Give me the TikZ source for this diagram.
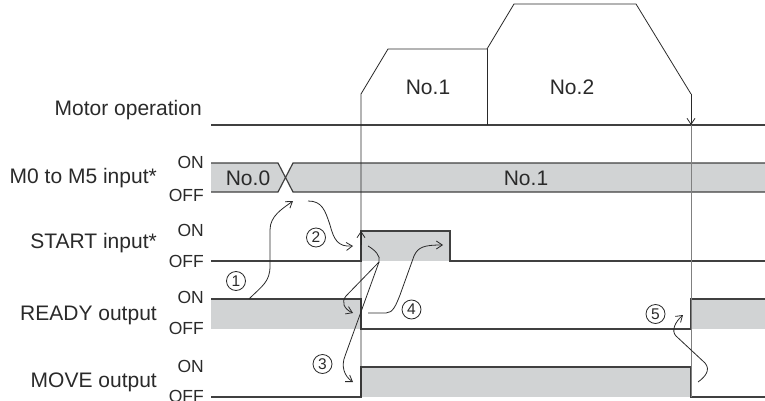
\documentclass[tikz,border=0pt]{standalone}
\usepackage{fontspec}
\setmainfont{Liberation Sans}
\usetikzlibrary{arrows.meta}
\definecolor{fillg}{HTML}{D1D3D4}
\definecolor{lineg}{HTML}{404040}
\definecolor{ptr}{HTML}{2A2A2A}
\begin{document}
\begin{tikzpicture}[x=1pt,y=-1pt,
  sig/.style={draw=lineg, line width=1.2pt},
  prof/.style={draw=ptr, line width=0.8pt},
  lbl/.style={font=\fontsize{21}{23}\selectfont, anchor=east, inner sep=0, text=ptr},
  txt/.style={font=\fontsize{21}{23}\selectfont, inner sep=0, text=ptr},
  onoff/.style={font=\fontsize{17.5}{19}\selectfont, anchor=east, inner sep=0, text=ptr},
  num/.style={circle, draw=ptr, line width=0.8pt, minimum size=19pt, inner sep=0, font=\fontsize{15.5}{16}\selectfont, text=ptr},
  pointer/.style={draw=ptr, line width=0.8pt, -{Straight Barb[length=6pt,width=8pt]}},
  ]
\useasboundingbox (0,0) rectangle (765,401);

% gray fills
\fill[fillg] (211,163) -- (278,163) -- (285.5,177.5) -- (278,192) -- (211,192) -- cycle;
\fill[fillg] (765,163) -- (293,163) -- (285.5,177.5) -- (293,192) -- (765,192) -- cycle;
\fill[fillg] (361,231) rectangle (450,261);
\fill[fillg] (211,299) rectangle (361,329);
\fill[fillg] (691,299) rectangle (765,329);
\fill[fillg] (361,367) rectangle (691,397);

% motor operation base line
\draw[sig] (211,125) -- (765,125);
% M0 to M5 bus
\draw[sig] (211,163) -- (278,163) -- (293,192) -- (765,192);
\draw[sig] (211,192) -- (278,192) -- (293,163) -- (765,163);
% START
\draw[sig] (211,261) -- (361,261) -- (361,231) -- (450,231) -- (450,261) -- (765,261);
% READY
\draw[sig] (211,299) -- (361,299) -- (361,329) -- (691,329) -- (691,299) -- (765,299);
% MOVE
\draw[sig] (211,397) -- (361,397) -- (361,367) -- (691,367) -- (691,397) -- (765,397);

% motor profile
\draw[prof] (361,397) -- (361,94) -- (388,49) -- (487,49) -- (514,4) -- (636,4) -- (691,94);
\draw[prof] (487,49) -- (487,125);
\draw[pointer] (691,94) -- (691,125);
\draw[draw=gray, line width=0.9pt] (691,125) -- (691,397);
\draw[pointer] (361,245) -- (361,231);

% labels
\node[lbl] (motor) at (202,110) {Motor operation};
\node[lbl] (m0) at (157,178) {M0 to M5 input*};
\node[lbl] (start) at (157,243) {START input*};
\node[lbl] (ready) at (157,315) {READY output};
\node[lbl] (move) at (157,382) {MOVE output};

\node[onoff] (m0on) at (204,162) {ON};
\node[onoff] (m0off) at (204,195) {OFF};
\node[onoff] (ston) at (204,230) {ON};
\node[onoff] (stoff) at (204,261) {OFF};
\node[onoff] (rdon) at (204,297) {ON};
\node[onoff] (rdoff) at (204,328.5) {OFF};
\node[onoff] (mvon) at (204,366) {ON};
\node[onoff] (mvoff) at (204,396) {OFF};

\node[txt] (no0) at (248,178) {No.0};
\node[txt] (no1b) at (526,178) {No.1};
\node[txt] (no1m) at (428,87) {No.1};
\node[txt] (no2m) at (572,87) {No.2};

% circled step numbers
\node[num] (c1) at (236,281) {1};
\node[num] (c2) at (316,237.5) {2};
\node[num] (c3) at (322.5,364) {3};
\node[num] (c4) at (411.5,309.5) {4};
\node[num] (c5) at (655.5,314) {5};

% pointer coordinates
\coordinate (p1s) at (249,299);
\coordinate (p1e) at (293,201);
\coordinate (p2s) at (308,201);
\coordinate (p2e) at (353,246);
\coordinate (p3s) at (368,246);
\coordinate (p3j) at (379,262);
\coordinate (p3a) at (353,313);
\coordinate (p3b) at (353,382);
\coordinate (p4s) at (368,313);
\coordinate (p4e) at (443,245);
\coordinate (p5s) at (698,382);
\coordinate (p5e) at (683,315);

\draw[pointer] (p1s) .. controls (262,286) and (270,282) .. (270,266) -- (270,230) .. controls (270,216) and (282,209) .. (p1e);
\draw[pointer] (p2s) .. controls (322,201) and (325,210) .. (330,225) .. controls (334,240) and (338,247) .. (p2e);
\draw[draw=ptr, line width=0.8pt] (p3s) .. controls (375,250) and (381,256) .. (p3j);
\draw[pointer] (p3j) -- (346,296) .. controls (341,302) and (344,309) .. (p3a);
\draw[pointer] (p3j) -- (345,356) .. controls (341,366) and (344,376) .. (p3b);
\draw[pointer] (p4s) -- (386,313) .. controls (393,313) and (396,305) .. (400,295) -- (414,256) .. controls (418,247) and (424,245) .. (p4e);
\draw[pointer] (p5s) .. controls (705,377) and (711,370) .. (705,363) -- (676,336) .. controls (671,331) and (675,322) .. (p5e);
\end{tikzpicture}
\end{document}
